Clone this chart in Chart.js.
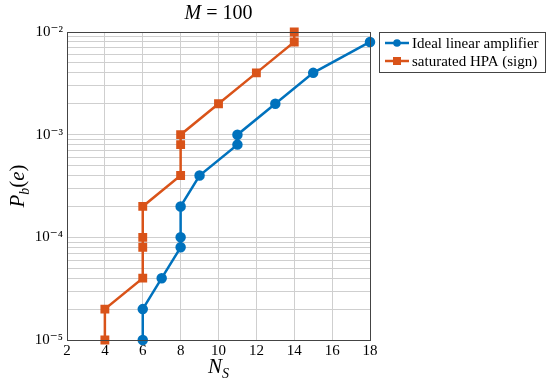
<!DOCTYPE html>
<html>
<head>
<meta charset="utf-8">
<script src="https://cdn.jsdelivr.net/npm/chart.js@4"></script>
<style>
  body { margin: 0; background: #fff; }
</style>
</head>
<body>
<canvas id="chart" width="550" height="384"></canvas>
<script>
// data
const seriesNames = ['Ideal linear amplifier', 'saturated HPA (sign)'];
const idealX = [6, 6, 7, 8, 8, 8, 9, 11, 11, 13, 15, 18];
const idealY = [1e-5, 2e-5, 4e-5, 8e-5, 1e-4, 2e-4, 4e-4, 8e-4, 1e-3, 2e-3, 4e-3, 8e-3];
const hpaX = [4, 4, 6, 6, 6, 6, 8, 8, 8, 10, 12, 14, 14];
const hpaY = [1e-5, 2e-5, 4e-5, 8e-5, 1e-4, 2e-4, 4e-4, 8e-4, 1e-3, 2e-3, 4e-3, 8e-3, 1e-2];
const xTickValues = [2, 4, 6, 8, 10, 12, 14, 16, 18];
const yDecades = [-5, -4, -3, -2];
const yTickLabels = ['10⁻⁵', '10⁻⁴', '10⁻³', '10⁻²'];

const blue = '#0072BD';
const orange = '#D95319';
const serif = '"Liberation Serif", "DejaVu Serif", serif';

function toPoints(xs, ys) {
  return xs.map((x, i) => ({ x: x, y: ys[i] }));
}

// draw a run of text pieces [text, font, dy] centred on x
function drawPieces(ctx, pieces, x, y) {
  let total = 0;
  pieces.forEach(p => { ctx.font = p[1]; total += ctx.measureText(p[0]).width; });
  let cx = x - total / 2;
  pieces.forEach(p => {
    ctx.font = p[1];
    ctx.fillText(p[0], cx, y + (p[2] || 0));
    cx += ctx.measureText(p[0]).width;
  });
}

const decorPlugin = {
  id: 'decor',
  afterDraw(chart) {
    const ctx = chart.ctx;
    const a = chart.chartArea;
    ctx.save();
    // frame
    ctx.strokeStyle = '#444';
    ctx.lineWidth = 1;
    ctx.strokeRect(a.left + 0.5, a.top + 0.5, a.right - a.left, a.bottom - a.top);

    ctx.fillStyle = '#000';
    ctx.textBaseline = 'alphabetic';
    // title
    drawPieces(ctx, [
      ['M', 'italic 20px ' + serif],
      [' = 100', '20px ' + serif]
    ], (a.left + a.right) / 2, 19);

    // x title
    drawPieces(ctx, [
      ['N', 'italic 21px ' + serif],
      ['S', 'italic 14px ' + serif, 5]
    ], (a.left + a.right) / 2, 373);

    // y title
    ctx.save();
    ctx.translate(24, (a.top + a.bottom) / 2);
    ctx.rotate(-Math.PI / 2);
    drawPieces(ctx, [
      ['P', 'italic 21px ' + serif],
      ['b', 'italic 14px ' + serif, 5],
      ['(', '21px ' + serif],
      ['e', 'italic 21px ' + serif],
      [')', '21px ' + serif]
    ], 0, 0);
    ctx.restore();

    // legend
    const lx = 379, ly = 32, lw = 166, lh = 40;
    ctx.fillStyle = '#fff';
    ctx.fillRect(lx, ly, lw, lh);
    ctx.strokeStyle = '#444';
    ctx.strokeRect(lx + 0.5, ly + 0.5, lw, lh);
    chart.data.datasets.forEach((ds, i) => {
      const yy = ly + 11 + i * 18;
      ctx.strokeStyle = ds.borderColor;
      ctx.lineWidth = 2.5;
      ctx.beginPath();
      ctx.moveTo(385, yy);
      ctx.lineTo(409, yy);
      ctx.stroke();
      ctx.fillStyle = ds.borderColor;
      if (ds.pointStyle === 'rect') {
        ctx.fillRect(397 - 4, yy - 4, 8, 8);
      } else {
        ctx.beginPath();
        ctx.arc(397, yy, 3.8, 0, Math.PI * 2);
        ctx.fill();
      }
      ctx.fillStyle = '#000';
      ctx.font = '15px ' + serif;
      ctx.textBaseline = 'middle';
      ctx.fillText(ds.label, 412, yy + 1);
    });
    ctx.restore();
  }
};

const ctx = document.getElementById('chart').getContext('2d');
const chart = new Chart(ctx, {
  type: 'line',
  data: {
    datasets: [{
      label: seriesNames[0],
      data: toPoints(idealX, idealY),
      borderColor: blue,
      backgroundColor: blue,
      borderWidth: 2.5,
      pointStyle: 'circle',
      pointRadius: 4,
      pointHoverRadius: 4,
      clip: false
    }, {
      label: seriesNames[1],
      data: toPoints(hpaX, hpaY),
      borderColor: orange,
      backgroundColor: orange,
      borderWidth: 2.5,
      pointStyle: 'rect',
      pointRadius: 4.5,
      pointHoverRadius: 4.5,
      clip: false
    }]
  },
  options: {
    responsive: false,
    animation: false,
    devicePixelRatio: 1,
    layout: { padding: { left: 0, right: 180, top: 32, bottom: 0 } },
    plugins: {
      legend: { display: false },
      title: { display: false },
      tooltip: { enabled: false }
    },
    scales: {
      x: {
        type: 'linear',
        min: 2,
        max: 18,
        afterBuildTicks: scale => { scale.ticks = xTickValues.map(v => ({ value: v })); },
        afterFit: scale => { scale.height = 44; },
        ticks: {
          color: '#000',
          font: { family: serif, size: 15 },
          padding: 2
        },
        grid: { color: '#cfcfcf', drawTicks: false },
        border: { display: false }
      },
      y: {
        type: 'logarithmic',
        min: 1e-5,
        max: 1e-2,
        afterBuildTicks: scale => {
          const t = [];
          yDecades.forEach(d => {
            const n = d === -2 ? 1 : 9;
            for (let m = 1; m <= n; m++) t.push({ value: m * Math.pow(10, d) });
          });
          scale.ticks = t;
        },
        afterFit: scale => { scale.width = 67; },
        ticks: {
          autoSkip: false,
          color: '#000',
          font: { family: serif, size: 15 },
          padding: 4,
          callback: function(value) {
            const e = Math.log10(value);
            const k = yDecades.indexOf(Math.round(e));
            return Math.abs(e - Math.round(e)) < 1e-9 && k >= 0 ? yTickLabels[k] : '';
          }
        },
        grid: { color: '#cfcfcf', drawTicks: false },
        border: { display: false }
      }
    }
  },
  plugins: [decorPlugin]
});
</script>
</body>
</html>
